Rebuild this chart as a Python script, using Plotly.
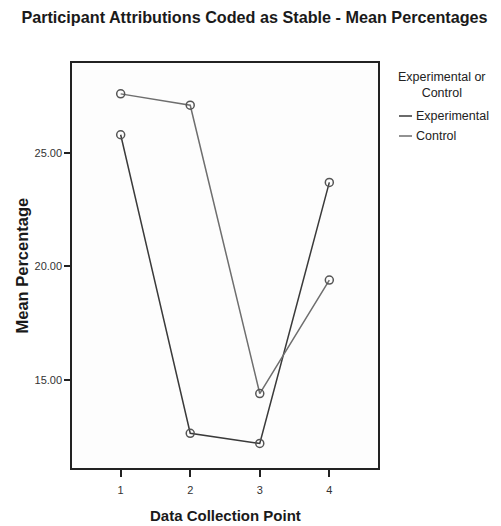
import plotly.graph_objects as go

# data
points = [1, 2, 3, 4]
experimental = [25.8, 12.65, 12.2, 23.7]
control = [27.6, 27.1, 14.4, 19.4]
y_ticks = [15, 20, 25]
y_tick_labels = ['15.00', '20.00', '25.00']
group_names = ['Experimental', 'Control']

FONT = 'Liberation Sans, Arial, sans-serif'
LINE_COLORS = {'Experimental': '#3a3a3a', 'Control': '#6e6e6e'}

# page body has an 8px margin, so the figure is sized to fit the window
W, H = 493, 518
L, R, T, B = 64, 123, 55, 58
PW, PH = W - L - R, H - T - B


def px_x(page_x):
    return (page_x - 8 - L) / PW


def px_y(page_y):
    return 1 - (page_y - 8 - T) / PH


fig = go.Figure()

for name, values in zip(group_names, [experimental, control]):
    fig.add_trace(go.Scatter(
        x=points, y=values, mode='lines+markers', name=name,
        line=dict(color=LINE_COLORS[name], width=1.5),
        marker=dict(symbol='circle-open', size=8, color='#555555',
                    line=dict(width=1.5)),
        showlegend=False,
    ))

fig.update_layout(
    width=W, height=H,
    margin=dict(l=L, r=R, t=T, b=B, autoexpand=False),
    paper_bgcolor='white',
    plot_bgcolor='#fdfdfd',
    font=dict(family=FONT, color='#222222'),
    title=dict(
        text='<b>Participant Attributions Coded as Stable - Mean Percentages</b>',
        x=0.5, xanchor='center', y=1 - 9 / H, yanchor='middle',
        yref='container', font=dict(size=16.2, color='#1a1a1a'),
    ),
    xaxis=dict(
        range=[0.3, 4.7], tickvals=points, ticktext=[str(p) for p in points],
        ticks='outside', ticklen=7, tickwidth=1.5, tickcolor='#222',
        ticklabelstandoff=4, automargin=False,
        showline=True, linecolor='#222', linewidth=1.5, mirror=True,
        showgrid=False, zeroline=False,
        tickfont=dict(size=11, color='#333'),
    ),
    yaxis=dict(
        range=[11.12, 28.96], tickvals=y_ticks, ticktext=y_tick_labels,
        ticks='outside', ticklen=6, tickwidth=1.5, tickcolor='#222',
        automargin=False,
        showline=True, linecolor='#222', linewidth=1.5, mirror=True,
        showgrid=False, zeroline=False,
        tickfont=dict(size=11, color='#333'),
    ),
)

# axis titles placed by hand
fig.add_annotation(
    text='<b>Mean Percentage</b>', xref='paper', yref='paper',
    x=px_x(21), y=0.5, xanchor='center', yanchor='middle', textangle=-90,
    showarrow=False, font=dict(size=16.5, color='#1a1a1a'),
)
fig.add_annotation(
    text='<b>Data Collection Point</b>', xref='paper', yref='paper',
    x=0.5, y=px_y(515), xanchor='center', yanchor='middle',
    showarrow=False, font=dict(size=15, color='#1a1a1a'),
)

# legend drawn by hand to match the short line swatches
fig.add_annotation(
    text='Experimental or<br>Control', xref='paper', yref='paper',
    x=px_x(442), y=px_y(85), xanchor='center', yanchor='middle',
    showarrow=False, align='center', font=dict(size=12.5, color='#222'),
)
for i, name in enumerate(group_names):
    y_pos = px_y(116 + 20 * i)
    fig.add_shape(type='line', xref='paper', yref='paper',
                  x0=px_x(399), x1=px_x(412), y0=y_pos, y1=y_pos,
                  line=dict(color=LINE_COLORS[name], width=1.5))
    fig.add_annotation(text=name, xref='paper', yref='paper',
                       x=px_x(414), y=y_pos, xanchor='left', yanchor='middle',
                       showarrow=False, font=dict(size=12.5, color='#222'))

fig.write_html('out.html')
